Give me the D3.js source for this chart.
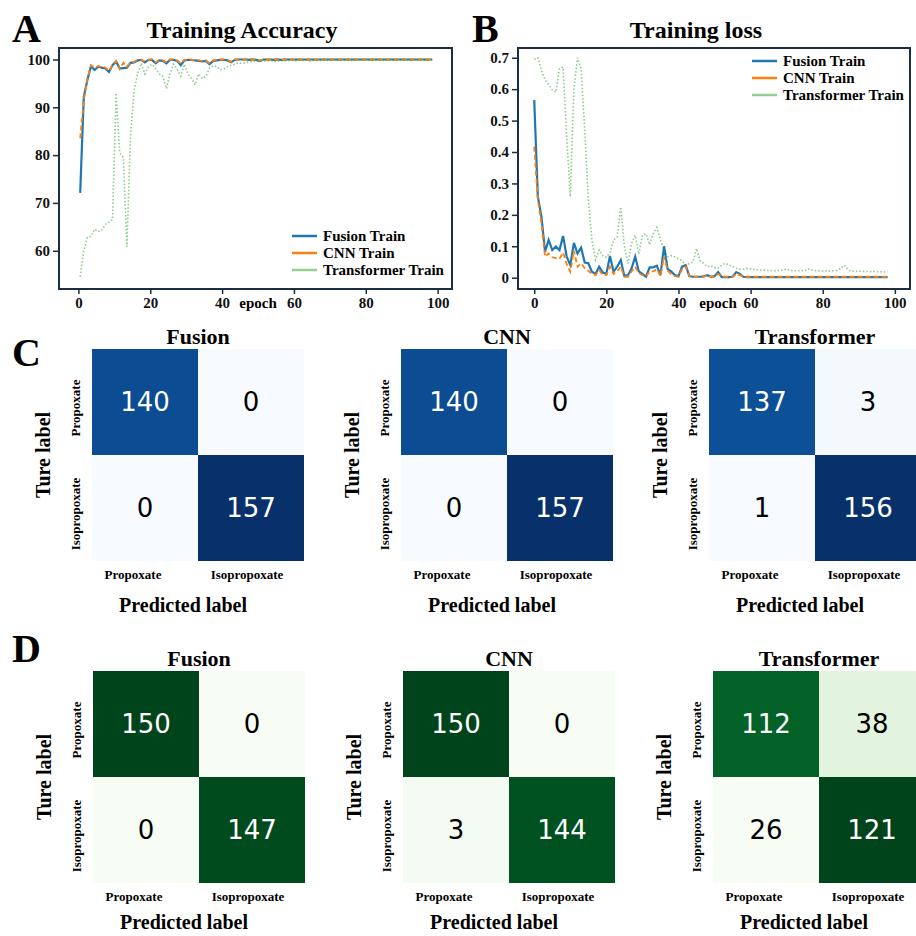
<!DOCTYPE html>
<html>
<head>
<meta charset="utf-8">
<script src="https://cdn.jsdelivr.net/npm/d3@7"></script>
<style>
  body { margin: 0; background: #fff; }
  svg text { font-family: "Liberation Serif", "Times New Roman", serif; font-weight: bold; }
  svg text.cell { font-family: "DejaVu Sans", sans-serif; font-weight: normal; }
</style>
</head>
<body>
<svg id="chart" width="916" height="936"></svg>
<script>
// ---- data ----
const fusionAcc = [
  72.1, 92.2, 95.7, 98.6, 97.8, 98.5, 98.3, 98.1, 97.4, 98.8,
  99.6, 98.1, 98.2, 98.3, 99.3, 99.4, 99.8, 99.9, 99.4, 99.9,
  99.9, 99.2, 99.8, 99.7, 99.2, 99.9, 99.9, 99.7, 98.8, 99.8,
  99.9, 99.9, 99.8, 99.7, 99.6, 99.7, 99.0, 99.7, 99.8, 99.9,
  99.9, 99.8, 99.4, 99.9, 100, 100, 100, 99.9, 100, 99.9,
  99.7, 100, 100, 100, 99.9, 100, 99.9, 100, 100, 100,
  100, 100, 100, 100, 100, 100, 100, 100, 100, 100,
  100, 100, 100, 100, 100, 100, 100, 100, 100, 100,
  100, 100, 100, 100, 100, 100, 100, 100, 100, 100,
  100, 100, 100, 100, 100, 100, 100, 100, 100
];
const cnnAcc = [
  83.5, 91.5, 96.0, 98.8, 98.3, 98.6, 98.5, 98.3, 97.6, 98.9,
  99.7, 98.0, 99.3, 98.5, 99.4, 99.5, 99.9, 99.9, 99.6, 99.9,
  100, 99.4, 99.9, 99.8, 99.4, 100, 100, 99.8, 99.2, 99.9,
  100, 99.9, 99.9, 99.8, 99.7, 99.8, 99.2, 99.8, 99.9, 100,
  100, 99.9, 99.5, 100, 100, 100, 100, 100, 100, 100,
  99.8, 100, 100, 100, 100, 100, 99.9, 100, 100, 100,
  100, 100, 100, 100, 100, 100, 100, 100, 100, 100,
  100, 100, 100, 100, 100, 100, 100, 100, 100, 100,
  100, 100, 100, 100, 100, 100, 100, 100, 100, 100,
  100, 100, 100, 100, 100, 100, 100, 100, 100
];
const transAcc = [
  54.6, 60.0, 62.8, 63.0, 64.5, 64.0, 64.3, 65.5, 66.0, 66.5,
  93.0, 80.5, 79.5, 60.8, 84.0, 93.5, 97.0, 99.2, 97.0, 98.5,
  99.0, 98.0, 97.0, 96.5, 93.9, 97.0, 99.0, 98.0, 96.5, 99.0,
  97.0, 96.0, 94.7, 97.0, 96.0, 96.5, 98.2, 98.7, 98.5, 97.8,
  98.0, 98.5, 98.8, 99.0, 99.3, 99.2, 99.3, 99.5, 99.6, 99.7,
  99.6, 99.7, 99.7, 99.8, 99.7, 99.6, 99.8, 99.7, 99.8, 99.8,
  99.7, 99.8, 99.8, 99.9, 99.7, 99.8, 99.8, 99.8, 99.9, 99.8,
  99.8, 99.9, 99.8, 99.8, 99.9, 99.8, 99.8, 99.9, 99.8, 99.9,
  99.9, 99.8, 99.9, 99.9, 99.8, 99.9, 99.9, 99.8, 99.9, 99.9,
  99.9, 99.9, 99.8, 99.9, 99.9, 99.9, 99.8, 99.9, 99.9
];
const fusionLoss = [
  0.565, 0.258, 0.194, 0.083, 0.120, 0.088, 0.099, 0.088, 0.133, 0.067,
  0.040, 0.111, 0.077, 0.096, 0.048, 0.046, 0.019, 0.012, 0.035, 0.016,
  0.012, 0.069, 0.019, 0.035, 0.056, 0.005, 0.008, 0.030, 0.067, 0.020,
  0.012, 0.003, 0.033, 0.033, 0.038, 0.008, 0.100, 0.027, 0.020, 0.008,
  0.005, 0.035, 0.040, 0.005, 0.003, 0.003, 0.003, 0.004, 0.008, 0.003,
  0.005, 0.018, 0.002, 0.002, 0.002, 0.003, 0.018, 0.012, 0.003, 0.002,
  0.002, 0.002, 0.002, 0.002, 0.002, 0.002, 0.002, 0.002, 0.002, 0.002,
  0.002, 0.002, 0.002, 0.002, 0.002, 0.002, 0.002, 0.002, 0.002, 0.002,
  0.002, 0.002, 0.002, 0.002, 0.002, 0.002, 0.002, 0.002, 0.002, 0.002,
  0.002, 0.002, 0.002, 0.002, 0.002, 0.002, 0.002, 0.002, 0.002
];
const cnnLoss = [
  0.417, 0.247, 0.173, 0.067, 0.077, 0.065, 0.062, 0.060, 0.080, 0.043,
  0.019, 0.086, 0.035, 0.046, 0.030, 0.022, 0.012, 0.008, 0.024, 0.008,
  0.008, 0.035, 0.012, 0.020, 0.035, 0.003, 0.003, 0.020, 0.035, 0.014,
  0.008, 0.003, 0.020, 0.020, 0.027, 0.005, 0.067, 0.022, 0.012, 0.005,
  0.003, 0.027, 0.035, 0.005, 0.003, 0.003, 0.003, 0.003, 0.008, 0.003,
  0.003, 0.012, 0.003, 0.003, 0.003, 0.003, 0.012, 0.008, 0.003, 0.003,
  0.003, 0.003, 0.003, 0.003, 0.003, 0.003, 0.003, 0.003, 0.003, 0.003,
  0.003, 0.003, 0.003, 0.003, 0.003, 0.003, 0.003, 0.003, 0.003, 0.003,
  0.003, 0.003, 0.003, 0.003, 0.003, 0.003, 0.003, 0.003, 0.003, 0.003,
  0.003, 0.003, 0.003, 0.003, 0.003, 0.003, 0.003, 0.003, 0.003
];
const transLoss = [
  0.695, 0.700, 0.660, 0.630, 0.615, 0.598, 0.590, 0.665, 0.670, 0.450,
  0.258, 0.600, 0.700, 0.665, 0.470, 0.250, 0.120, 0.057, 0.088, 0.070,
  0.065, 0.080, 0.120, 0.130, 0.225, 0.100, 0.045, 0.110, 0.135, 0.075,
  0.135, 0.140, 0.105, 0.140, 0.160, 0.120, 0.090, 0.067, 0.070, 0.066,
  0.060, 0.055, 0.040, 0.045, 0.050, 0.093, 0.055, 0.045, 0.035, 0.038,
  0.032, 0.030, 0.040, 0.046, 0.040, 0.035, 0.030, 0.027, 0.028, 0.030,
  0.028, 0.026, 0.025, 0.024, 0.024, 0.023, 0.023, 0.022, 0.023, 0.024,
  0.028, 0.023, 0.022, 0.022, 0.023, 0.022, 0.028, 0.024, 0.022, 0.022,
  0.021, 0.022, 0.021, 0.022, 0.023, 0.030, 0.040, 0.025, 0.021, 0.020,
  0.021, 0.020, 0.020, 0.019, 0.020, 0.019, 0.019, 0.018, 0.018
];
const seriesNames = ["Fusion Train", "CNN Train", "Transformer Train"];
const accTicks = [60, 70, 80, 90, 100];
const lossTicks = [0, 0.1, 0.2, 0.3, 0.4, 0.5, 0.6, 0.7];
const epochTicks = [0, 20, 40, 60, 80, 100];

const models = ["Fusion", "CNN", "Transformer"];
const classes = ["Propoxate", "Isopropoxate"];
const cmTrain = [
  [[140, 0], [0, 157]],
  [[140, 0], [0, 157]],
  [[137, 3], [1, 156]]
];
const cmTest = [
  [[150, 0], [0, 147]],
  [[150, 0], [3, 144]],
  [[112, 38], [26, 121]]
];

const svg = d3.select("#chart");

const styles = [
  { color: "#1f77b4", width: 2.2, dash: null, opacity: 1 },
  { color: "#ff7f0e", width: 1.8, dash: "5,3", opacity: 1 },
  { color: "#2ca02c", width: 1.6, dash: "1.5,2", opacity: 0.55 }
];

function letter(t, x, y) {
  svg.append("text").attr("x", x).attr("y", y).attr("font-size", 40).text(t);
}

function linePanel(p) {
  const g = svg.append("g");
  const x = d3.scaleLinear().domain(p.xDomain).range([p.left, p.right]);
  const y = d3.scaleLinear().domain(p.yDomain).range([p.bottom, p.top]);

  g.append("text")
    .attr("x", p.titleX).attr("y", 38)
    .attr("text-anchor", "middle").attr("font-size", 24)
    .text(p.title);

  const yAxis = g.append("g")
    .attr("transform", `translate(${p.left},0)`)
    .call(d3.axisLeft(y).tickValues(p.yTicks).tickSize(6).tickPadding(3).tickFormat(p.yFormat));
  const xAxis = g.append("g")
    .attr("transform", `translate(0,${p.bottom})`)
    .call(d3.axisBottom(x).tickValues(epochTicks).tickSize(5).tickPadding(3));
  [xAxis, yAxis].forEach(a => {
    a.select(".domain").remove();
    a.selectAll("line").attr("stroke", "#1c2e44").attr("stroke-width", 1.5);
    a.selectAll("text").attr("font-size", 15).attr("fill", "#111");
  });

  const line = d3.line().x((d, i) => x(i + p.offset)).y(d => y(d));
  p.series.forEach((s, k) => {
    const st = styles[k];
    g.append("path")
      .datum(s)
      .attr("d", line)
      .attr("fill", "none")
      .attr("stroke", st.color)
      .attr("stroke-width", st.width)
      .attr("stroke-opacity", st.opacity)
      .attr("stroke-dasharray", st.dash);
  });

  g.append("rect")
    .attr("x", p.left).attr("y", p.top)
    .attr("width", p.right - p.left).attr("height", p.bottom - p.top)
    .attr("fill", "none").attr("stroke", "#1c2e44").attr("stroke-width", 2);

  g.append("text")
    .attr("x", p.epochX).attr("y", 308)
    .attr("text-anchor", "middle").attr("font-size", 15)
    .text("epoch");

  seriesNames.forEach((n, k) => {
    const ly = p.legY + k * 17;
    g.append("line")
      .attr("x1", p.legX).attr("x2", p.legX + 25)
      .attr("y1", ly).attr("y2", ly)
      .attr("stroke", styles[k].color)
      .attr("stroke-opacity", k === 2 ? 0.5 : 1)
      .attr("stroke-width", 2.5);
    g.append("text")
      .attr("x", p.legX + 31).attr("y", ly + 5)
      .attr("font-size", 15)
      .text(n);
  });
}

linePanel({
  title: "Training Accuracy", titleX: 242,
  left: 59, right: 452, top: 48, bottom: 289,
  xDomain: [-5.4, 104], yDomain: [52, 102.4],
  yTicks: accTicks, yFormat: d3.format("d"),
  series: [fusionAcc, cnnAcc, transAcc], offset: 0.5,
  epochX: 258, legX: 292, legY: 236
});
linePanel({
  title: "Training loss", titleX: 696,
  left: 518, right: 910, top: 48, bottom: 289,
  xDomain: [-4.5, 104.2], yDomain: [-0.036, 0.731],
  yTicks: lossTicks, yFormat: d => d === 0 ? "0" : d3.format(".1f")(d),
  series: [fusionLoss, cnnLoss, transLoss], offset: 0,
  epochX: 718, legX: 752, legY: 61
});

letter("A", 12, 42);
letter("B", 472, 42);

function matrix(cm, name, L, T, interp) {
  const S = 106;
  const g = svg.append("g");
  const flat = cm.flat();
  const lo = d3.min(flat), hi = d3.max(flat);
  const color = d3.scaleSequential(interp).domain([lo, hi]);
  const band = d3.scaleBand().domain(classes).range([0, 2 * S]);

  classes.forEach((r, i) => {
    classes.forEach((c, j) => {
      const v = cm[i][j];
      const t = (v - lo) / (hi - lo);
      g.append("rect")
        .attr("x", L + band(c)).attr("y", T + band(r))
        .attr("width", band.bandwidth()).attr("height", band.bandwidth())
        .attr("fill", color(v));
      g.append("text")
        .attr("class", "cell")
        .attr("x", L + band(c) + S / 2).attr("y", T + band(r) + S / 2)
        .attr("text-anchor", "middle").attr("dominant-baseline", "central")
        .attr("font-size", 26)
        .attr("fill", t > 0.5 ? "#fff" : "#000")
        .text(v);
    });
  });

  g.append("text").attr("x", L + S).attr("y", T - 5)
    .attr("text-anchor", "middle").attr("font-size", 22).text(name);

  classes.forEach((c, j) => {
    g.append("text")
      .attr("x", L + band(c) + S / 2 - (j === 0 ? 12 : 4)).attr("y", T + 2 * S + 18)
      .attr("text-anchor", "middle").attr("font-size", 13).text(c);
    const cy = T + band(c) + S / 2 + 6;
    g.append("text")
      .attr("transform", `translate(${L - 12},${cy}) rotate(-90)`)
      .attr("text-anchor", "middle").attr("font-size", 13).text(c);
  });

  g.append("text").attr("x", L + 91).attr("y", Math.min(T + 2 * S + 51, 929))
    .attr("text-anchor", "middle").attr("font-size", 20).text("Predicted label");
  g.append("text")
    .attr("transform", `translate(${L - 42},${T + S}) rotate(-90)`)
    .attr("text-anchor", "middle").attr("font-size", 20).text("Ture label");
}

const leftC = [92, 401, 709];
const leftD = [93, 403, 713];
models.forEach((m, k) => {
  matrix(cmTrain[k], m, leftC[k], 349, d3.interpolateBlues);
  matrix(cmTest[k], m, leftD[k], 671, d3.interpolateGreens);
});
letter("C", 12, 366);
letter("D", 12, 662);
</script>
</body>
</html>
